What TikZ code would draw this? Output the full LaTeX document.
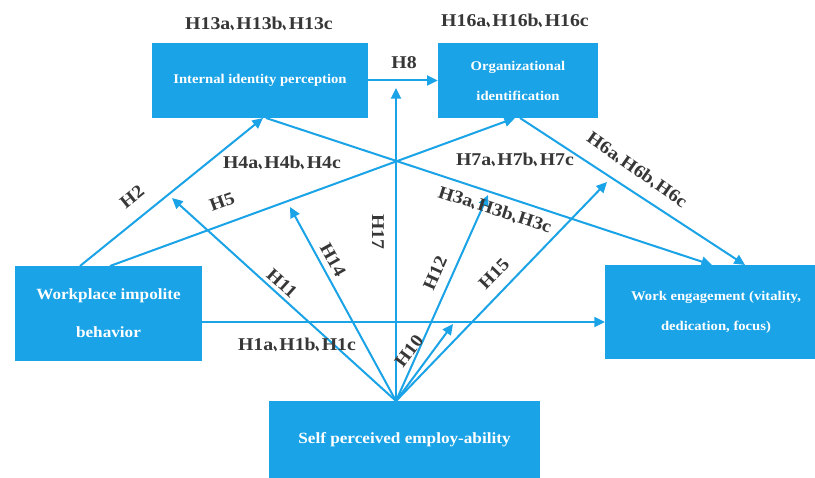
\documentclass[tikz,border=0pt]{standalone}
\usepackage{fontspec}
\usepackage{graphicx}
\setmainfont{Liberation Serif}[FakeStretch=1.1]
\newfontfamily\cjk{Noto Sans CJK SC}
\usetikzlibrary{arrows.meta,calc}
\definecolor{boxblue}{RGB}{26,163,230}
\definecolor{lblgray}{RGB}{55,55,55}
\newcommand\dn{\scalebox{0.6}[1]{\cjk 、}\kern-0.26em}
\begin{document}
\begin{tikzpicture}[x=0.75pt,y=-0.75pt,
  ln/.style={draw=boxblue, line width=1.5pt},
  arr/.style={ln, -{Triangle[length=8pt,width=7.5pt]}},
  lbl/.style={text=lblgray, font=\fontsize{13.5}{16}\selectfont\bfseries, inner sep=0pt},
  bx/.style={fill=boxblue, text=white, align=center, inner sep=0pt, font=\fontsize{10}{22.5}\selectfont\bfseries},
  bxbig/.style={bx, font=\fontsize{11.7}{28.5}\selectfont\bfseries}]
\clip (0,0) rectangle (815,478);
\fill[white] (0,0) rectangle (815,478);

% boxes
\node[bx, minimum width=162pt, minimum height=56.25pt] (A) at (260,80.5) {Internal identity perception};
\node[bx, minimum width=120pt, minimum height=56.25pt] (B) at (518,80.5) {Organizational\\identification};
\node[bxbig, minimum width=140.25pt, minimum height=71.25pt] (C) at (108.5,313.5) {Workplace impolite\\behavior};
\node[bx, minimum width=166.5pt, minimum height=70.5pt] (D) at (716,312) {Work engagement (vitality,\\dedication, focus)};
\node[bxbig, minimum width=203.25pt, minimum height=58.5pt] (E) at (404.5,440) {Self perceived employ-ability};

% border points
\coordinate (c1) at (80,266);
\coordinate (c2) at (110,266);
\coordinate (c3) at (202,322);
\coordinate (a1) at (263,118);
\coordinate (a2) at (266,118);
\coordinate (b1) at (515,118);
\coordinate (b2) at (520,118);
\coordinate (d1) at (712,265);
\coordinate (d2) at (745,265);
\coordinate (d3) at (605,322);
\coordinate (hub) at (396,401);
% moderator tips
\coordinate (t7) at (396,88);
\coordinate (t11) at (172,198);
\coordinate (t14) at (290,207);
\coordinate (t12) at (488,195);
\coordinate (t15) at (607,182);
\coordinate (t10) at (453,324);

% main paths
\draw[arr] (A.east) -- (B.west);
\draw[arr] (c1) -- (a1);
\draw[arr] (c2) -- (b1);
\draw[arr] (a2) -- (d1);
\draw[arr] (b2) -- (d2);
\draw[arr] (c3) -- (d3);
% moderator paths
\draw[arr] (hub) -- (t7);
\draw[arr] (hub) -- (t11);
\draw[arr] (hub) -- (t14);
\draw[arr] (hub) -- (t12);
\draw[arr] (hub) -- (t15);
\draw[arr] (hub) -- (t10);

% labels
\node[lbl] (l13) at (259,24) {H13a\dn H13b\dn H13c};
\node[lbl] (l16) at (515,21) {H16a\dn H16b\dn H16c};
\node[lbl] (l8) at (404,63) {H8};
\node[lbl] (l4) at (282,163) {H4a\dn H4b\dn H4c};
\node[lbl] (l7) at (515,160) {H7a\dn H7b\dn H7c};
\node[lbl] (l1) at (297,345) {H1a\dn H1b\dn H1c};
\node[lbl, rotate=39] (l2) at (132,197) {H2};
\node[lbl, rotate=20] (l5) at (222,202) {H5};
\node[lbl, rotate=-90] (l17) at (378,232) {H17};
\node[lbl, rotate=-42] (l11) at (282,283) {H11};
\node[lbl, rotate=-61] (l14) at (333,260) {H14};
\node[lbl, rotate=66] (l12) at (435,273) {H12};
\node[lbl, rotate=46] (l15) at (494,274) {H15};
\node[lbl, rotate=53] (l10) at (409,351) {H10};
\node[lbl, rotate=-18] (l3) at (495,210) {H3a\dn H3b\dn H3c};
\node[lbl, rotate=-35] (l6) at (637,170) {H6a\dn H6b\dn H6c};
\end{tikzpicture}
\end{document}
